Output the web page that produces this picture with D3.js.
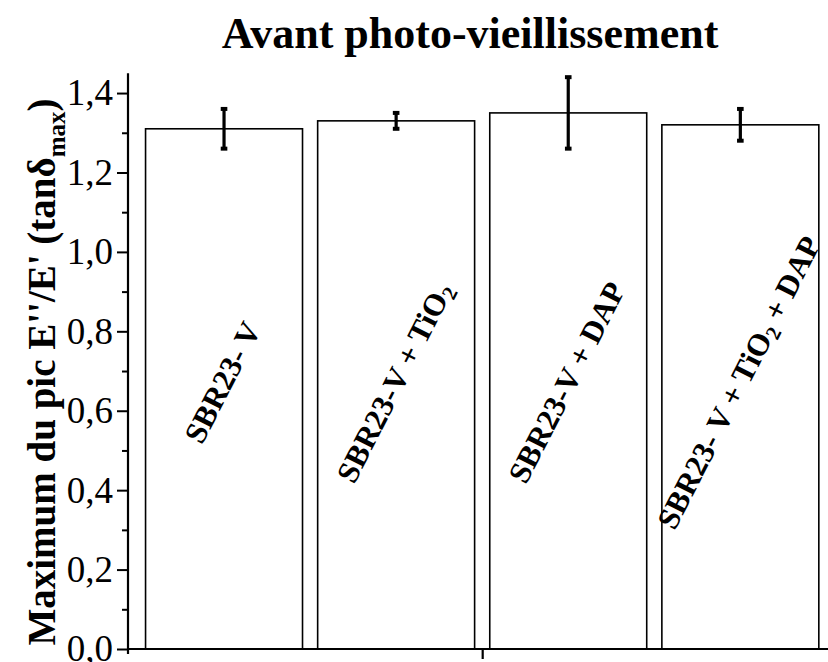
<!DOCTYPE html>
<html>
<head>
<meta charset="utf-8">
<script src="https://cdn.jsdelivr.net/npm/d3@7"></script>
<style>
  html, body { margin: 0; padding: 0; background: #fff; }
  svg { display: block; }
  text { font-family: "Liberation Serif", "Times New Roman", serif; fill: #000; }
</style>
</head>
<body>
<svg id="chart" width="828" height="662"></svg>
<script>
// Samples (main label text, optional subscript part, trailing text)
const categories = [
  ["SBR23- V", "", ""],
  ["SBR23-V + TiO", "2", ""],
  ["SBR23-V + DAP", "", ""],
  ["SBR23- V + TiO", "2", " + DAP"]
];
// tan δ max and its standard deviation
const values = [1.31, 1.33, 1.35, 1.32];
const errors = [0.05, 0.02, 0.09, 0.04];
const yTicks = [0, 0.2, 0.4, 0.6, 0.8, 1.0, 1.2, 1.4];
const yTickLabels = ["0,0", "0,2", "0,4", "0,6", "0,8", "1,0", "1,2", "1,4"];
const titleText = "Avant photo-vieillissement";

const svg = d3.select("#chart");

const x = d3.scaleLinear().domain([0.442, 4.55]).range([128, 835]);
const y = d3.scaleLinear().domain([0, 1.45]).range([649, 73.2]);
const barW = 0.912;

// Bars
svg.append("g").selectAll("rect")
  .data(values)
  .join("rect")
  .attr("x", (d, i) => x(i + 1 - barW / 2))
  .attr("width", (d, i) => x(i + 1 + barW / 2) - x(i + 1 - barW / 2))
  .attr("y", d => y(d))
  .attr("height", d => y(0) - y(d))
  .attr("fill", "#fff")
  .attr("stroke", "#000")
  .attr("stroke-width", 1.6);

// Error bars
const eg = svg.append("g");
values.forEach((v, i) => {
  const cx = x(i + 1);
  eg.append("line")
    .attr("x1", cx).attr("x2", cx)
    .attr("y1", y(v + errors[i])).attr("y2", y(v - errors[i]))
    .attr("stroke", "#000").attr("stroke-width", 3.2);
  [v + errors[i], v - errors[i]].forEach(e => {
    eg.append("rect")
      .attr("x", cx - 3.3).attr("width", 6.6)
      .attr("y", y(e) - 2).attr("height", 4)
      .attr("fill", "#000");
  });
});

// Bar labels, rotated along each bar
const lg = svg.append("g");
categories.forEach((c, i) => {
  const t = lg.append("text")
    .attr("transform", `translate(${x(i + 1) - 2},${y(0.672)}) rotate(-63)`)
    .attr("text-anchor", "middle")
    .attr("dominant-baseline", "central")
    .style("font-weight", "bold")
    .style("font-size", "31px");
  t.append("tspan").text(c[0]);
  if (c[1]) {
    t.append("tspan").attr("dy", 9).style("font-size", "21px").text(c[1]);
    if (c[2]) t.append("tspan").attr("dy", -9).text(c[2]);
  }
});

// Y axis with major and minor ticks
const yAxis = d3.axisLeft(y)
  .tickValues(yTicks)
  .tickSize(11)
  .tickPadding(4)
  .tickFormat((d, i) => yTickLabels[i]);
const ya = svg.append("g").attr("transform", "translate(128,0)").call(yAxis);
ya.select(".domain").attr("d", `M0,${y(1.45)}V${y(0) + 5}`).attr("stroke-width", 2.2);
ya.selectAll(".tick line").attr("stroke-width", 2);
ya.selectAll(".tick text").style("font-size", "37px").style("font-family", "Liberation Serif, serif");

const yMinor = d3.axisLeft(y)
  .tickValues([0.1, 0.3, 0.5, 0.7, 0.9, 1.1, 1.3])
  .tickSize(6)
  .tickFormat("");
const ym = svg.append("g").attr("transform", "translate(128,0)").call(yMinor);
ym.select(".domain").remove();
ym.selectAll(".tick line").attr("stroke-width", 2);

// X axis
const xAxis = d3.axisBottom(x).tickValues([2.5]).tickSize(10).tickFormat("");
const xa = svg.append("g").attr("transform", `translate(0,${y(0)})`).call(xAxis);
xa.select(".domain").attr("d", `M128,0H828`).attr("stroke-width", 2.2);
xa.selectAll(".tick line").attr("stroke-width", 2.2);

// Y axis title
const yt = svg.append("text")
  .attr("transform", `translate(55,372) rotate(-90)`)
  .attr("text-anchor", "middle")
  .style("font-weight", "bold")
  .style("font-size", "39px");
yt.append("tspan").text("Maximum du pic E''/E' (tanδ");
yt.append("tspan").attr("dy", 10).style("font-size", "25px").text("max");
yt.append("tspan").attr("dy", -10).text(")");

// Title
svg.append("text")
  .attr("x", 470).attr("y", 48)
  .attr("text-anchor", "middle")
  .style("font-weight", "bold")
  .style("font-size", "44px")
  .text(titleText);
</script>
</body>
</html>
